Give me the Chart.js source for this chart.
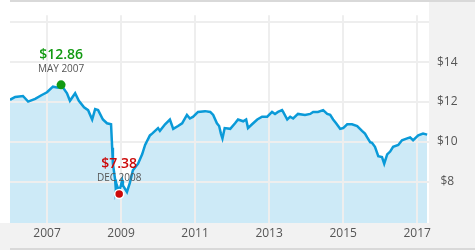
<!DOCTYPE html>
<html>
<head>
<meta charset="utf-8">
<script src="https://cdn.jsdelivr.net/npm/chart.js@4"></script>
<style>
  html, body { margin: 0; padding: 0; background: #fff; }
  #wrap { width: 475px; height: 250px; position: relative; }
</style>
</head>
<body>
<div id="wrap"><canvas id="chart" width="475" height="250"></canvas></div>
<script>
// price history (x = decimal year)
const years = [
  2006.00, 2006.14, 2006.35, 2006.49, 2006.68, 2006.86, 2007.00, 2007.16, 2007.30, 2007.38,
  2007.54, 2007.62, 2007.76, 2007.86, 2008.00, 2008.11, 2008.22, 2008.30, 2008.38, 2008.51,
  2008.62, 2008.73, 2008.76, 2008.78, 2008.84, 2008.86, 2008.89, 2008.95, 2009.03, 2009.05,
  2009.16, 2009.24, 2009.32, 2009.46, 2009.57, 2009.65, 2009.78, 2009.84, 2010.00, 2010.05,
  2010.19, 2010.32, 2010.41, 2010.54, 2010.65, 2010.78, 2010.86, 2010.95, 2011.08, 2011.27,
  2011.41, 2011.49, 2011.59, 2011.65, 2011.70, 2011.74, 2011.80, 2011.95, 2012.08, 2012.16,
  2012.30, 2012.38, 2012.43, 2012.54, 2012.68, 2012.81, 2012.95, 2013.08, 2013.16, 2013.24,
  2013.35, 2013.38, 2013.49, 2013.57, 2013.65, 2013.78, 2013.97, 2014.11, 2014.19, 2014.32,
  2014.46, 2014.57, 2014.65, 2014.73, 2014.81, 2014.92, 2015.00, 2015.11, 2015.24, 2015.38,
  2015.51, 2015.59, 2015.65, 2015.73, 2015.78, 2015.86, 2015.95, 2016.05, 2016.11, 2016.19,
  2016.27, 2016.35, 2016.49, 2016.59, 2016.73, 2016.81, 2016.89, 2017.03, 2017.16, 2017.27,
];
const prices = [
  12.11, 12.25, 12.30, 12.02, 12.16, 12.35, 12.49, 12.77, 12.72, 12.86,
  12.44, 12.06, 12.44, 12.06, 11.73, 11.59, 11.12, 11.64, 11.59, 11.12,
  10.93, 10.88, 9.70, 8.90, 8.10, 7.58, 7.81, 7.50, 8.05, 7.81,
  7.48, 7.95, 8.57, 8.90, 9.37, 9.84, 10.32, 10.41, 10.69, 10.55,
  10.88, 11.12, 10.65, 10.79, 10.93, 11.35, 11.17, 11.26, 11.50, 11.54,
  11.50, 11.35, 10.93, 10.79, 10.40, 10.17, 10.69, 10.65, 10.93, 11.12,
  11.03, 11.12, 10.69, 10.88, 11.12, 11.26, 11.26, 11.50, 11.40, 11.50,
  11.59, 11.50, 11.12, 11.26, 11.17, 11.40, 11.35, 11.40, 11.50, 11.50,
  11.59, 11.40, 11.35, 11.12, 10.93, 10.65, 10.69, 10.88, 10.88, 10.79,
  10.55, 10.41, 10.22, 9.98, 9.95, 9.75, 9.28, 9.23, 8.90, 9.37,
  9.51, 9.75, 9.84, 10.08, 10.17, 10.22, 10.08, 10.32, 10.41, 10.36,
];

// high / low callouts
const markYears = [2007.38, 2008.95];
const markPrices = [12.86, 7.38];
const markDates = ["MAY 2007", "DEC 2008"];

const xTicks = [2007, 2009, 2011, 2013, 2015, 2017];
const yTicks = [8, 10, 12, 14, 16];

const FONT = "'Open Sans', 'Noto Sans', sans-serif";
const markColors = ["#129a12", "#cc0a0a"];

const panels = {
  id: "panels",
  beforeDraw(chart) {
    const { ctx, chartArea, width, height } = chart;
    ctx.save();
    ctx.fillStyle = "#f2f2f2";
    ctx.fillRect(chartArea.right, 0, width - chartArea.right, chartArea.bottom);
    ctx.fillRect(0, chartArea.bottom, width, height - chartArea.bottom);
    ctx.fillStyle = "#d9d9d9";
    ctx.fillRect(10, 0, width - 10, 2);
    ctx.fillRect(10, height - 2, width - 10, 2);
    ctx.restore();
  },
};

const callouts = {
  id: "callouts",
  afterDatasetsDraw(chart) {
    const { ctx, scales } = chart;
    ctx.save();
    markYears.forEach((yr, i) => {
      const px = scales.x.getPixelForValue(yr);
      const py = scales.y.getPixelForValue(markPrices[i]);
      ctx.beginPath();
      ctx.arc(px, py, 4.5, 0, Math.PI * 2);
      ctx.fillStyle = markColors[i];
      ctx.fill();
      if (i === 1) {
        ctx.lineWidth = 1.5;
        ctx.strokeStyle = "#fff";
        ctx.stroke();
      }
      ctx.textAlign = "center";
      ctx.textBaseline = "middle";
      ctx.fillStyle = markColors[i];
      ctx.font = "600 14px " + FONT;
      ctx.fillText("$" + markPrices[i].toFixed(2), px, py - 30);
      ctx.fillStyle = "#555";
      ctx.font = "10px " + FONT;
      ctx.fillText(markDates[i], px, py - 16);
    });
    ctx.restore();
  },
};

const ctx = document.getElementById("chart").getContext("2d");
new Chart(ctx, {
  type: "line",
  data: {
    datasets: [
      {
        data: years.map((yr, i) => ({ x: yr, y: prices[i] })),
        borderColor: "#0a9ad8",
        borderWidth: 2.5,
        backgroundColor: "#cdeaf7",
        fill: "start",
        tension: 0,
        pointRadius: 0,
      },
    ],
  },
  options: {
    responsive: false,
    animation: false,
    events: [],
    layout: { padding: { left: 10, top: 2, right: 0, bottom: 0 } },
    plugins: {
      legend: { display: false },
      tooltip: { enabled: false },
      filler: { drawTime: "beforeDraw" },
    },
    scales: {
      x: {
        type: "linear",
        min: 2006,
        max: 2017.32,
        afterBuildTicks: (scale) => {
          scale.ticks = xTicks.map((v) => ({ value: v }));
        },
        afterFit: (scale) => {
          scale.height = 27;
        },
        grid: { color: "#eeeeee", lineWidth: 2, drawTicks: false },
        border: { display: false },
        ticks: {
          padding: 3,
          color: "#555",
          font: { family: FONT, size: 12 },
          callback: (v) => String(v),
        },
      },
      y: {
        position: "right",
        min: 5.92,
        max: 16.36,
        afterBuildTicks: (scale) => {
          scale.ticks = yTicks.map((v) => ({ value: v }));
        },
        afterFit: (scale) => {
          scale.width = 46;
        },
        grid: { color: "#eeeeee", lineWidth: 2, drawTicks: false },
        border: { display: false },
        ticks: {
          padding: 8,
          crossAlign: "center",
          color: "#555",
          font: { family: FONT, size: 12 },
          callback: (v) => (v < 16 ? "$" + v : ""),
        },
      },
    },
  },
  plugins: [panels, callouts],
});
</script>
</body>
</html>
